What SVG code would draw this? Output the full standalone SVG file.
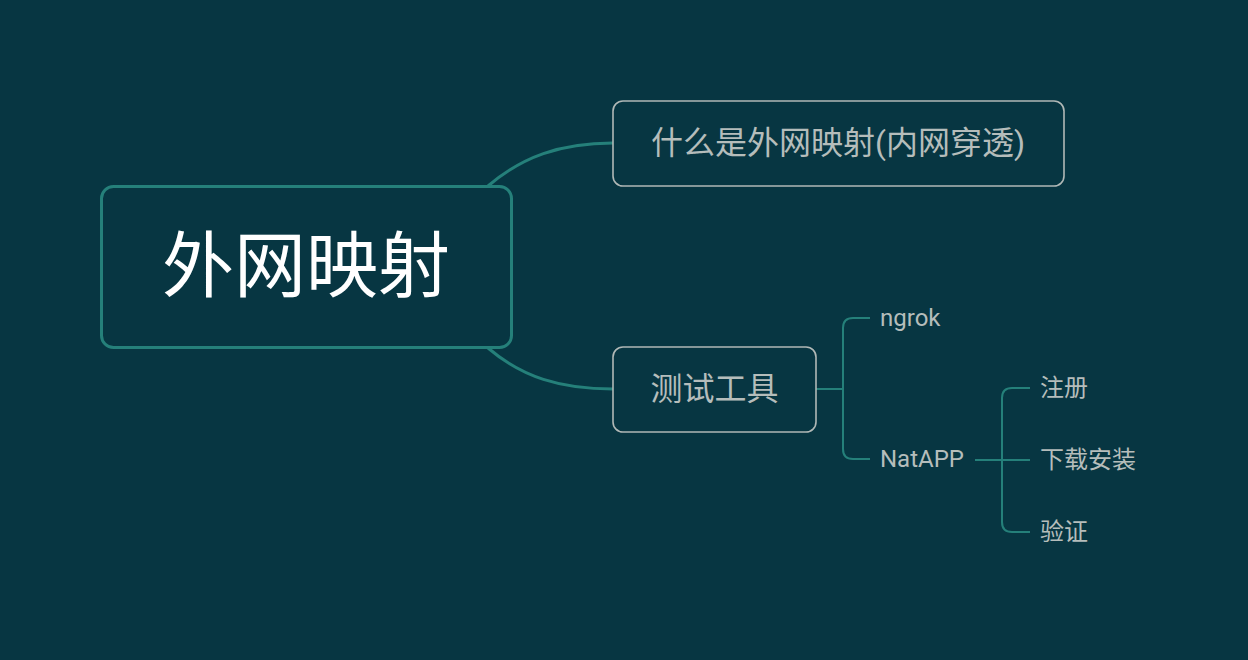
<svg xmlns="http://www.w3.org/2000/svg" width="1248" height="660" viewBox="0 0 1248 660">
<style>
text{font-family:Roboto,"Noto Sans CJK SC",sans-serif;}
.main{fill:#ffffff;font-size:72px;text-anchor:middle;}
.t1{fill:#b5bdbb;font-size:32px;text-anchor:middle;}
.t2{fill:#b5bdbb;font-size:24px;}
.box{fill:#073642;stroke:#b0b8b6;stroke-width:1.6;}
.conn{fill:none;stroke:#25807a;}
</style>
<rect width="1248" height="660" fill="#073642"/>
<g id="connectors">
<path class="conn" stroke-width="3" d="M 488 186 C 522 157, 560 143, 613 143"/>
<path class="conn" stroke-width="3" d="M 488 348 C 522 377, 560 389, 613 389"/>
<path class="conn" stroke-width="2" d="M 816 389 H 843"/>
<path class="conn" stroke-width="2" d="M 870 318 H 853 Q 843 318 843 328 V 449 Q 843 459 853 459 H 870"/>
<path class="conn" stroke-width="2" d="M 975 460 H 1030"/>
<path class="conn" stroke-width="2" d="M 1030 388 H 1012 Q 1002 388 1002 398 V 522 Q 1002 532 1012 532 H 1030"/>
</g>
<g id="root">
<rect x="101.5" y="186.5" width="410" height="161" rx="12" fill="#073642" stroke="#25807a" stroke-width="3"/>
<text class="main" x="306" y="291">外网映射</text>
</g>
<g id="n1">
<rect class="box" x="613" y="101" width="451" height="85" rx="10"/>
<text class="t1" x="838" y="154">什么是外网映射(内网穿透)</text>
</g>
<g id="n2">
<rect class="box" x="613" y="347" width="203" height="85" rx="10"/>
<text class="t1" x="714.5" y="400">测试工具</text>
</g>
<g id="ngrok"><text class="t2" x="880" y="326">ngrok</text></g>
<g id="natapp"><text class="t2" x="880" y="467">NatAPP</text></g>
<g id="zhuce"><text class="t2" x="1040" y="396">注册</text></g>
<g id="xiazai"><text class="t2" x="1040" y="468">下载安装</text></g>
<g id="yanzheng"><text class="t2" x="1040" y="540">验证</text></g>
</svg>
